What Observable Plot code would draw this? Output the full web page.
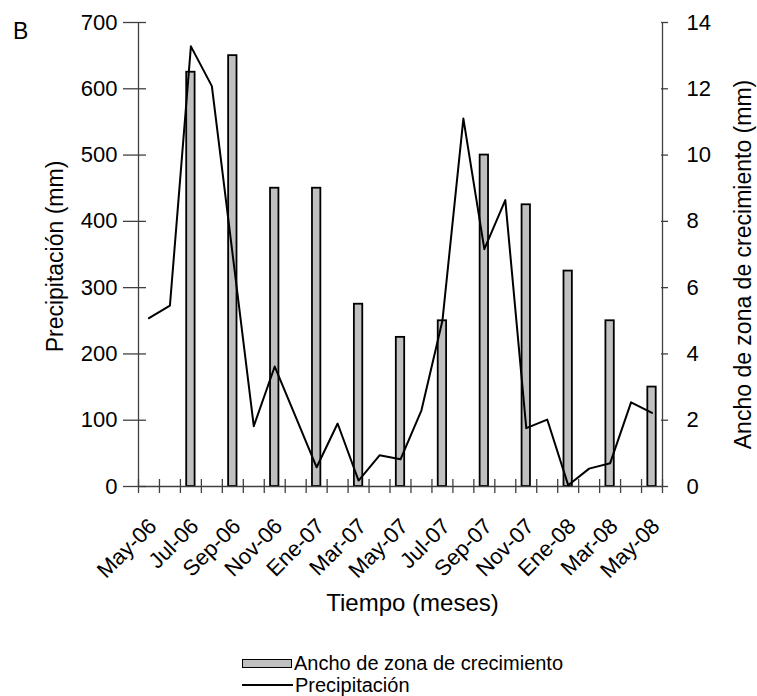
<!DOCTYPE html>
<html><head><meta charset="utf-8">
<script src="https://cdn.jsdelivr.net/npm/d3@7"></script>
<script src="https://cdn.jsdelivr.net/npm/@observablehq/plot@0.6"></script>
<style>
body{margin:0;background:#fff;font-family:"Liberation Sans",Arial,sans-serif;}
#wrap{position:relative;width:757px;height:696px;overflow:hidden;background:#fff;}
#legend{position:absolute;left:242px;top:652px;font-size:20px;color:#000;}
.row{display:flex;align-items:center;height:22px;white-space:nowrap;}
.swb{width:48px;height:7px;background:#c0c0c0;border:1.5px solid #000;margin-right:2px;}
.swl{width:51px;height:0;border-top:2px solid #000;margin-right:2px;}
</style></head><body><div id="wrap"></div>
<script>
const months = ["May-06","Jun-06","Jul-06","Ago-06","Sep-06","Oct-06","Nov-06","Dic-06","Ene-07","Feb-07","Mar-07","Abr-07","May-07","Jun-07","Jul-07","Ago-07","Sep-07","Oct-07","Nov-07","Dic-07","Ene-08","Feb-08","Mar-08","Abr-08","May-08"];
const precipitacion = [254, 273, 664, 604, 348, 91, 181, 105, 29, 95, 9, 47, 41, 115, 250, 555, 358, 432, 88, 101, 2, 27, 35, 127, 111];
const barMonths = ["Jul-06","Sep-06","Nov-06","Ene-07","Mar-07","May-07","Jul-07","Sep-07","Nov-07","Ene-08","Mar-08","May-08"];
const ancho = [12.5, 13, 9, 9, 5.5, 4.5, 5, 10, 8.5, 6.5, 5, 3];
const xLabelMonths = ["May-06","Jul-06","Sep-06","Nov-06","Ene-07","Mar-07","May-07","Jul-07","Sep-07","Nov-07","Ene-08","Mar-08","May-08"];
const leftTicks = [0, 100, 200, 300, 400, 500, 600, 700];
const rightTicks = [0, 2, 4, 6, 8, 10, 12, 14];

const leftMax = 700, rightMax = 14, ratio = leftMax / rightMax;
const precipData = months.map((m, i) => ({i, v: precipitacion[i]}));
const barData = barMonths.map((m, k) => ({i: months.indexOf(m), v: ancho[k]}));
const barHalf = 0.2;
const boundaries = d3.range(months.length + 1);
const axisColor = "#404040";

const chart = Plot.plot({
  width: 757, height: 640,
  marginLeft: 138, marginRight: 95, marginTop: 22, marginBottom: 154,
  style: {fontFamily: "'Liberation Sans', Arial, sans-serif", fontSize: "22px", color: "#000", background: "#fff"},
  x: {domain: [0, months.length]},
  y: {domain: [0, leftMax]},
  marks: [
    Plot.rectY(barData, {x1: d => d.i + 0.5 - barHalf, x2: d => d.i + 0.5 + barHalf, y1: 0, y2: d => d.v * ratio, fill: "#c0c0c0", stroke: "#000", strokeWidth: 1.8}),
    Plot.ruleX([0, months.length], {stroke: axisColor, strokeWidth: 1.3}),
    Plot.ruleY([0], {stroke: axisColor, strokeWidth: 1.3}),
    Plot.ruleX(boundaries, {y1: 0, y2: 0, insetTop: -7, insetBottom: -7, stroke: axisColor, strokeWidth: 1.3}),
    Plot.ruleY(leftTicks, {x1: 0, x2: 0, insetLeft: -15, insetRight: -8, stroke: axisColor, strokeWidth: 1.3}),
    Plot.ruleY(rightTicks.map(v => v * ratio), {x1: months.length, x2: months.length, insetLeft: -1, insetRight: -6, stroke: axisColor, strokeWidth: 1.3}),
    Plot.line(precipData, {x: d => d.i + 0.5, y: "v", stroke: "#000", strokeWidth: 2}),
    Plot.axisY(leftTicks, {anchor: "left", tickSize: 0, tickPadding: 21, label: null, fontSize: 22}),
    Plot.axisY(rightTicks.map(v => v * ratio), {anchor: "right", tickSize: 0, tickPadding: 24, tickFormat: d => d / ratio, label: null, fontSize: 22}),
    Plot.axisX(xLabelMonths.map(m => months.indexOf(m) + 0.5), {anchor: "bottom", tickSize: 0, tickPadding: 36, dx: 4, tickRotate: -45, tickFormat: d => months[d - 0.5], label: null, fontSize: 22}),
    Plot.text(["Precipitación (mm)"], {frameAnchor: "left", textAnchor: "middle", rotate: -90, dx: -83, dy: 2, fontSize: 23}),
    Plot.text(["Ancho de zona de crecimiento (mm)"], {frameAnchor: "right", textAnchor: "middle", rotate: -90, dx: 81, dy: 10, fontSize: 23}),
    Plot.text(["Tiempo (meses)"], {frameAnchor: "bottom", textAnchor: "middle", dx: 12, dy: 124, fontSize: 24}),
    Plot.text(["B"], {frameAnchor: "top-left", dx: -125.5, textAnchor: "start", fontSize: 23})
  ]
});

const wrap = document.getElementById("wrap");
wrap.appendChild(chart);
const legend = document.createElement("div");
legend.id = "legend";
legend.innerHTML = '<div class="row"><div class="swb"></div><span>Ancho de zona de crecimiento</span></div>' +
                   '<div class="row"><div class="swl"></div><span>Precipitación</span></div>';
wrap.appendChild(legend);
</script>
</body></html>
